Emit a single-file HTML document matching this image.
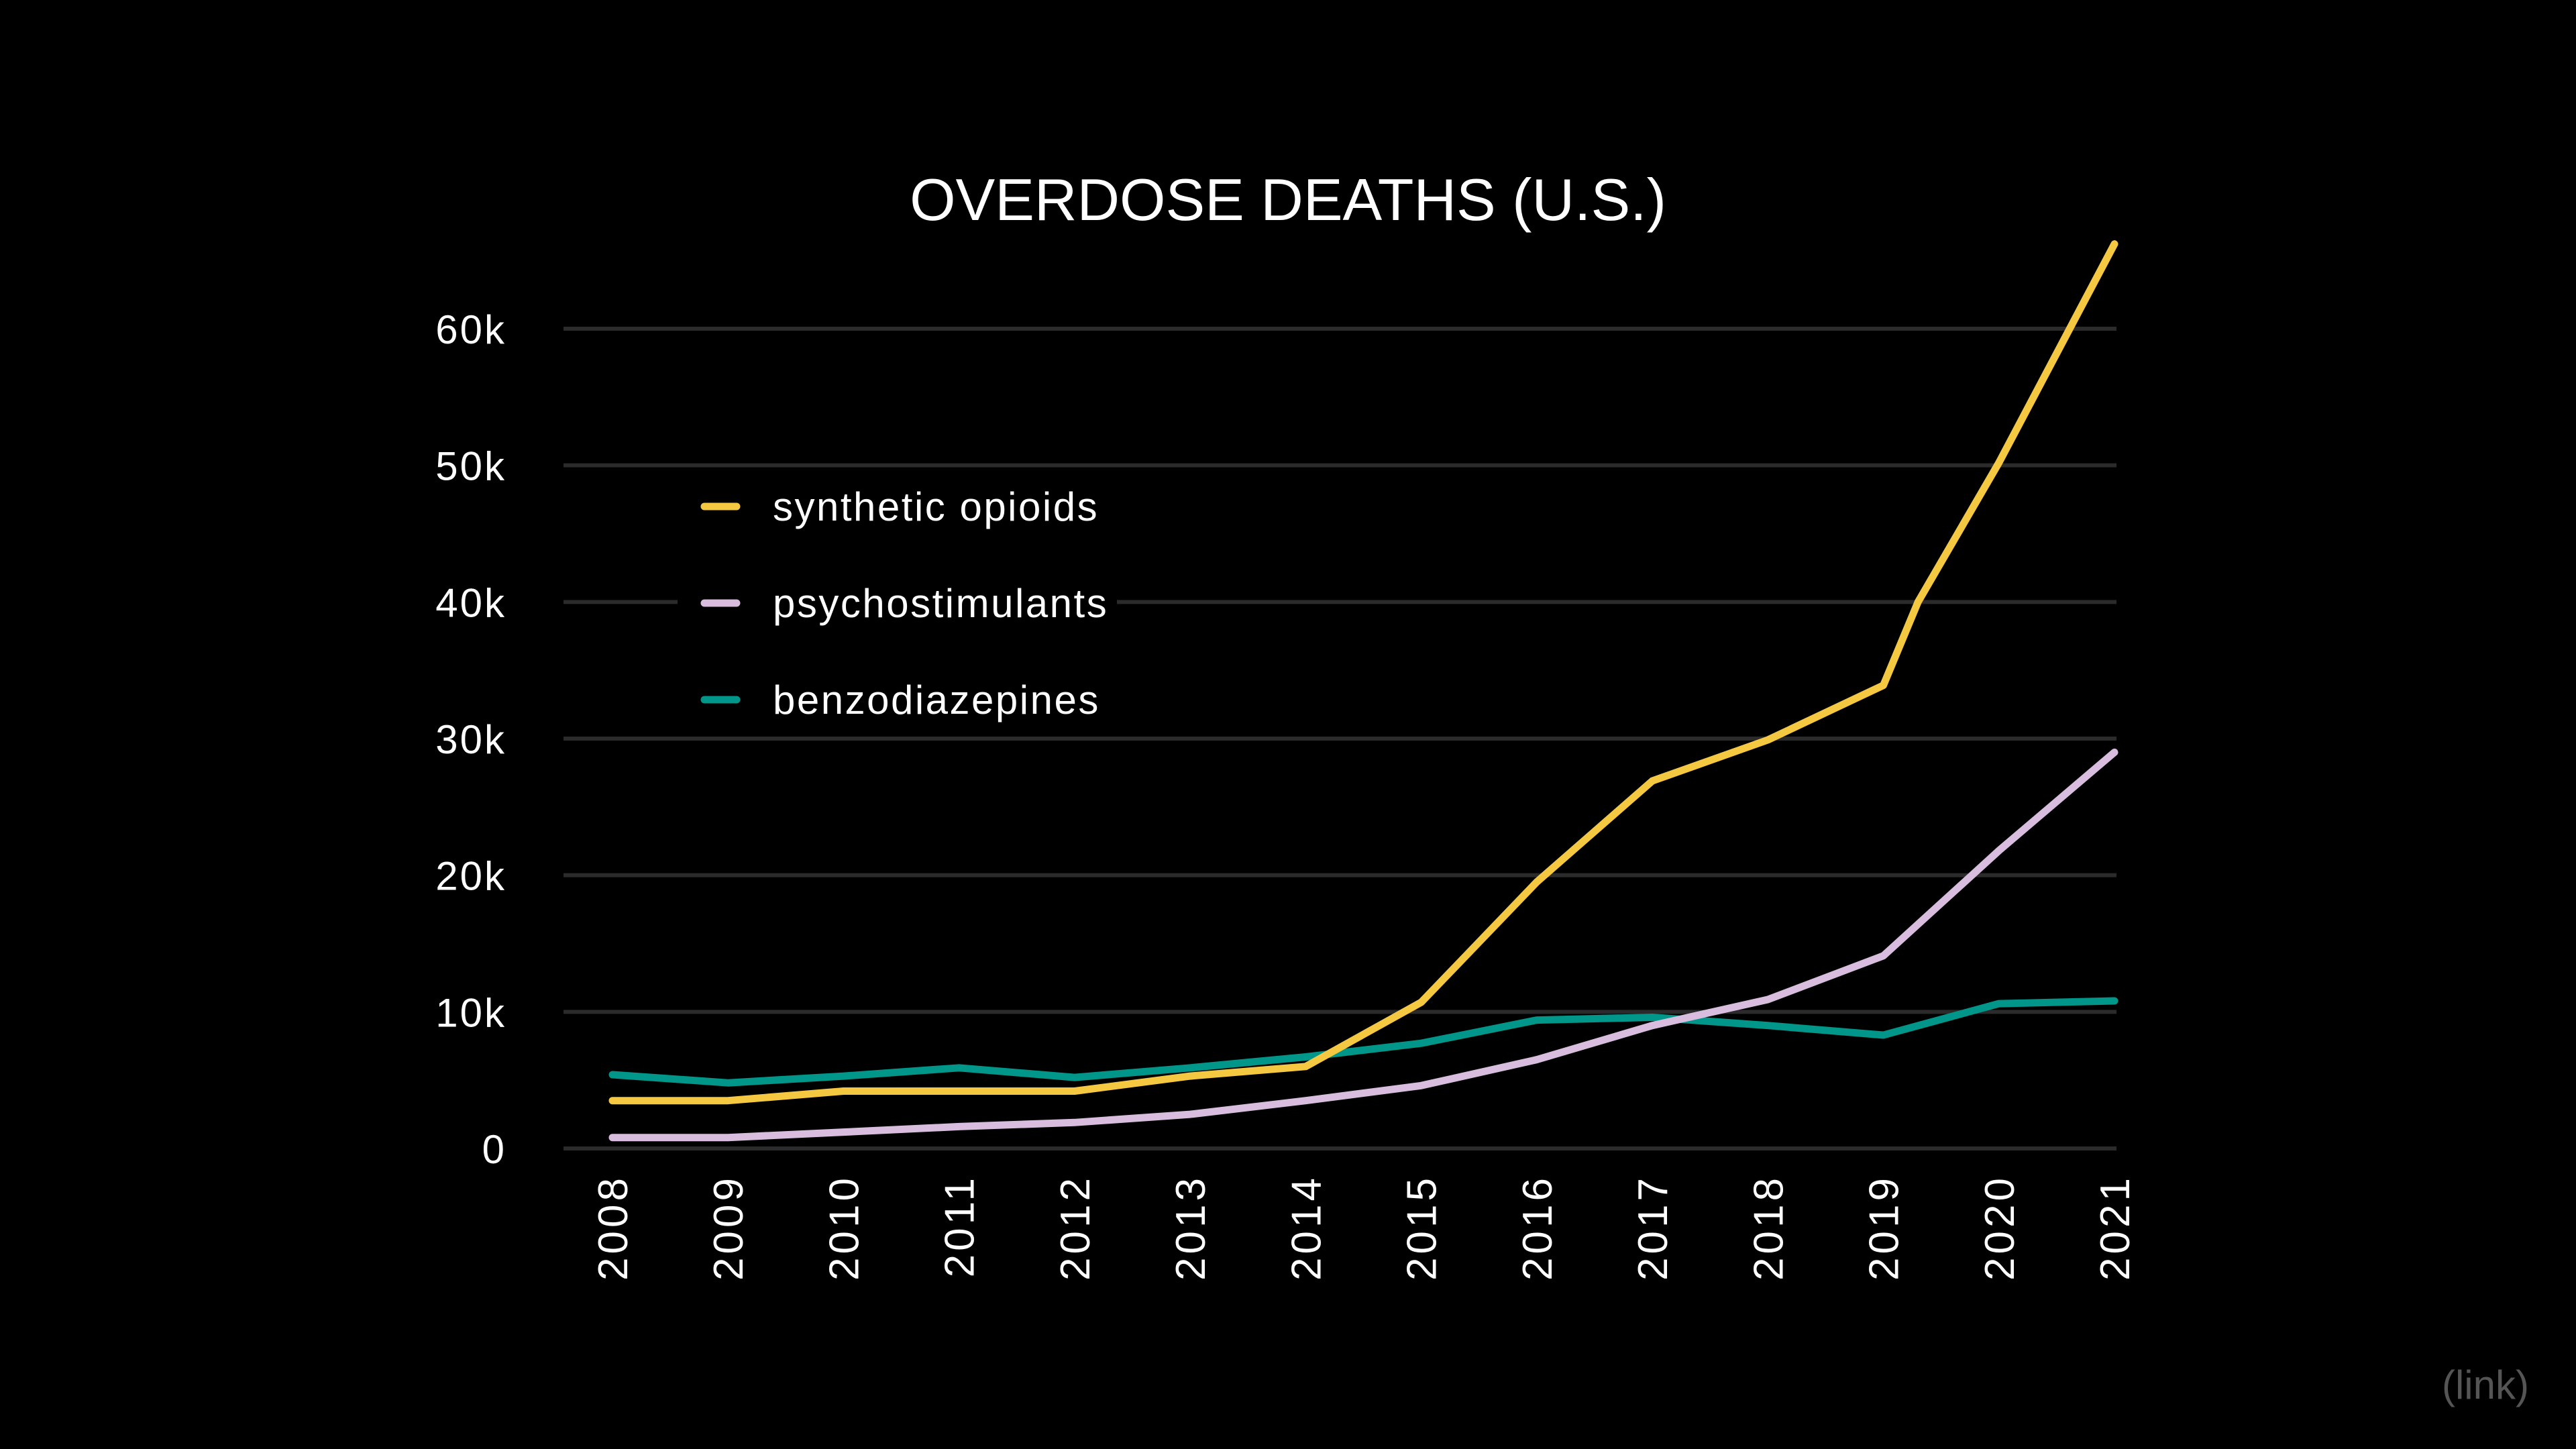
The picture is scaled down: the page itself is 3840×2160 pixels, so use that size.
<!DOCTYPE html>
<html><head><meta charset="utf-8"><style>
html,body{margin:0;padding:0;background:#000;}
svg{display:block;font-family:"Liberation Sans",sans-serif;}
</style></head><body>
<svg id="chart" width="3840" height="2160" viewBox="0 0 3840 2160" xmlns="http://www.w3.org/2000/svg">
<rect width="3840" height="2160" fill="#000"/>
<text x="1920" y="328" fill="#fff" font-size="88" text-anchor="middle">OVERDOSE DEATHS (U.S.)</text>
<g id="grid"></g><g id="yticks"></g><g id="xticks"></g>
<rect x="1010" y="700" width="655" height="380" fill="#000"/>
<g id="lines"></g>
<g id="legend"></g>
<text x="3705" y="2085" fill="#555" font-size="60" text-anchor="middle">(link)</text>
</svg>
<script>
const years=[2008,2009,2010,2011,2012,2013,2014,2015,2016,2017,2018,2019,2020,2021];
const synthX=[2008,2009,2010,2011,2012,2013,2014,2015,2016,2017,2018,2019,2019.3,2020,2021];
const synthetic=[3.5,3.5,4.2,4.2,4.2,5.3,6.0,10.7,19.5,26.9,29.9,33.9,40.0,50.2,66.2];
const psycho=[0.8,0.8,1.2,1.6,1.9,2.5,3.5,4.6,6.5,9.0,10.9,14.1,21.8,29.0];
const benzo=[5.4,4.8,5.3,5.9,5.2,5.9,6.7,7.7,9.4,9.6,9.0,8.3,10.6,10.8];
const yTicks=[0,10,20,30,40,50,60];
const yTickLabels=["0","10k","20k","30k","40k","50k","60k"];
const seriesNames=["synthetic opioids","psychostimulants","benzodiazepines"];
const seriesColors=["#f5c842","#d8bddf","#00968a"];
const NS="http://www.w3.org/2000/svg";
const X=v=>913+(v-2008)*(3152-913)/13;
const Y=v=>1712-v*(1712-490)/60;
function mk(tag,parent,attrs){const e=document.createElementNS(NS,tag);for(const k in attrs)e.setAttribute(k,attrs[k]);document.getElementById(parent).appendChild(e);return e;}
yTicks.forEach((t,i)=>{
  const l=mk('line','grid',{x1:840,x2:3155,y1:Y(t),y2:Y(t),stroke:'#2b2b2b','stroke-width':6});
  
  
  const tx=mk('text','yticks',{x:755,y:Y(t)+22,fill:'#fff','font-size':60,'letter-spacing':3,'text-anchor':'end'});
  tx.textContent=yTickLabels[i];
  
  
});
years.forEach(yr=>{
  const tx=mk('text','xticks',{x:0,y:0,fill:'#fff','font-size':62,'letter-spacing':5,'text-anchor':'end',transform:`translate(${X(yr)+22},1751) rotate(-90)`});
  tx.textContent=yr;
  
  
});
function draw(xs,vals,color,name){
  const d=vals.map((v,i)=>(i?'L':'M')+X(xs[i]).toFixed(1)+','+Y(v).toFixed(1)).join(' ');
  const p=mk('path','lines',{d:d,fill:'none',stroke:color,'stroke-width':11,'stroke-linejoin':'round','stroke-linecap':'round'});
  
  
}
draw(years,benzo,seriesColors[2],'benzodiazepines-line');
draw(years,psycho,seriesColors[1],'psychostimulants-line');
draw(synthX,synthetic,seriesColors[0],'synthetic-opioids-line');
seriesNames.forEach((n,i)=>{
  const y=755+i*144;
  const l=mk('line','legend',{x1:1050,x2:1098,y1:y,y2:y,stroke:seriesColors[i],'stroke-width':11,'stroke-linecap':'round'});
  
  
  const t=mk('text','legend',{x:1152,y:y+21,fill:'#fff','font-size':60,'letter-spacing':2.5});
  t.textContent=n;
  
  
});
</script>
</body></html>
